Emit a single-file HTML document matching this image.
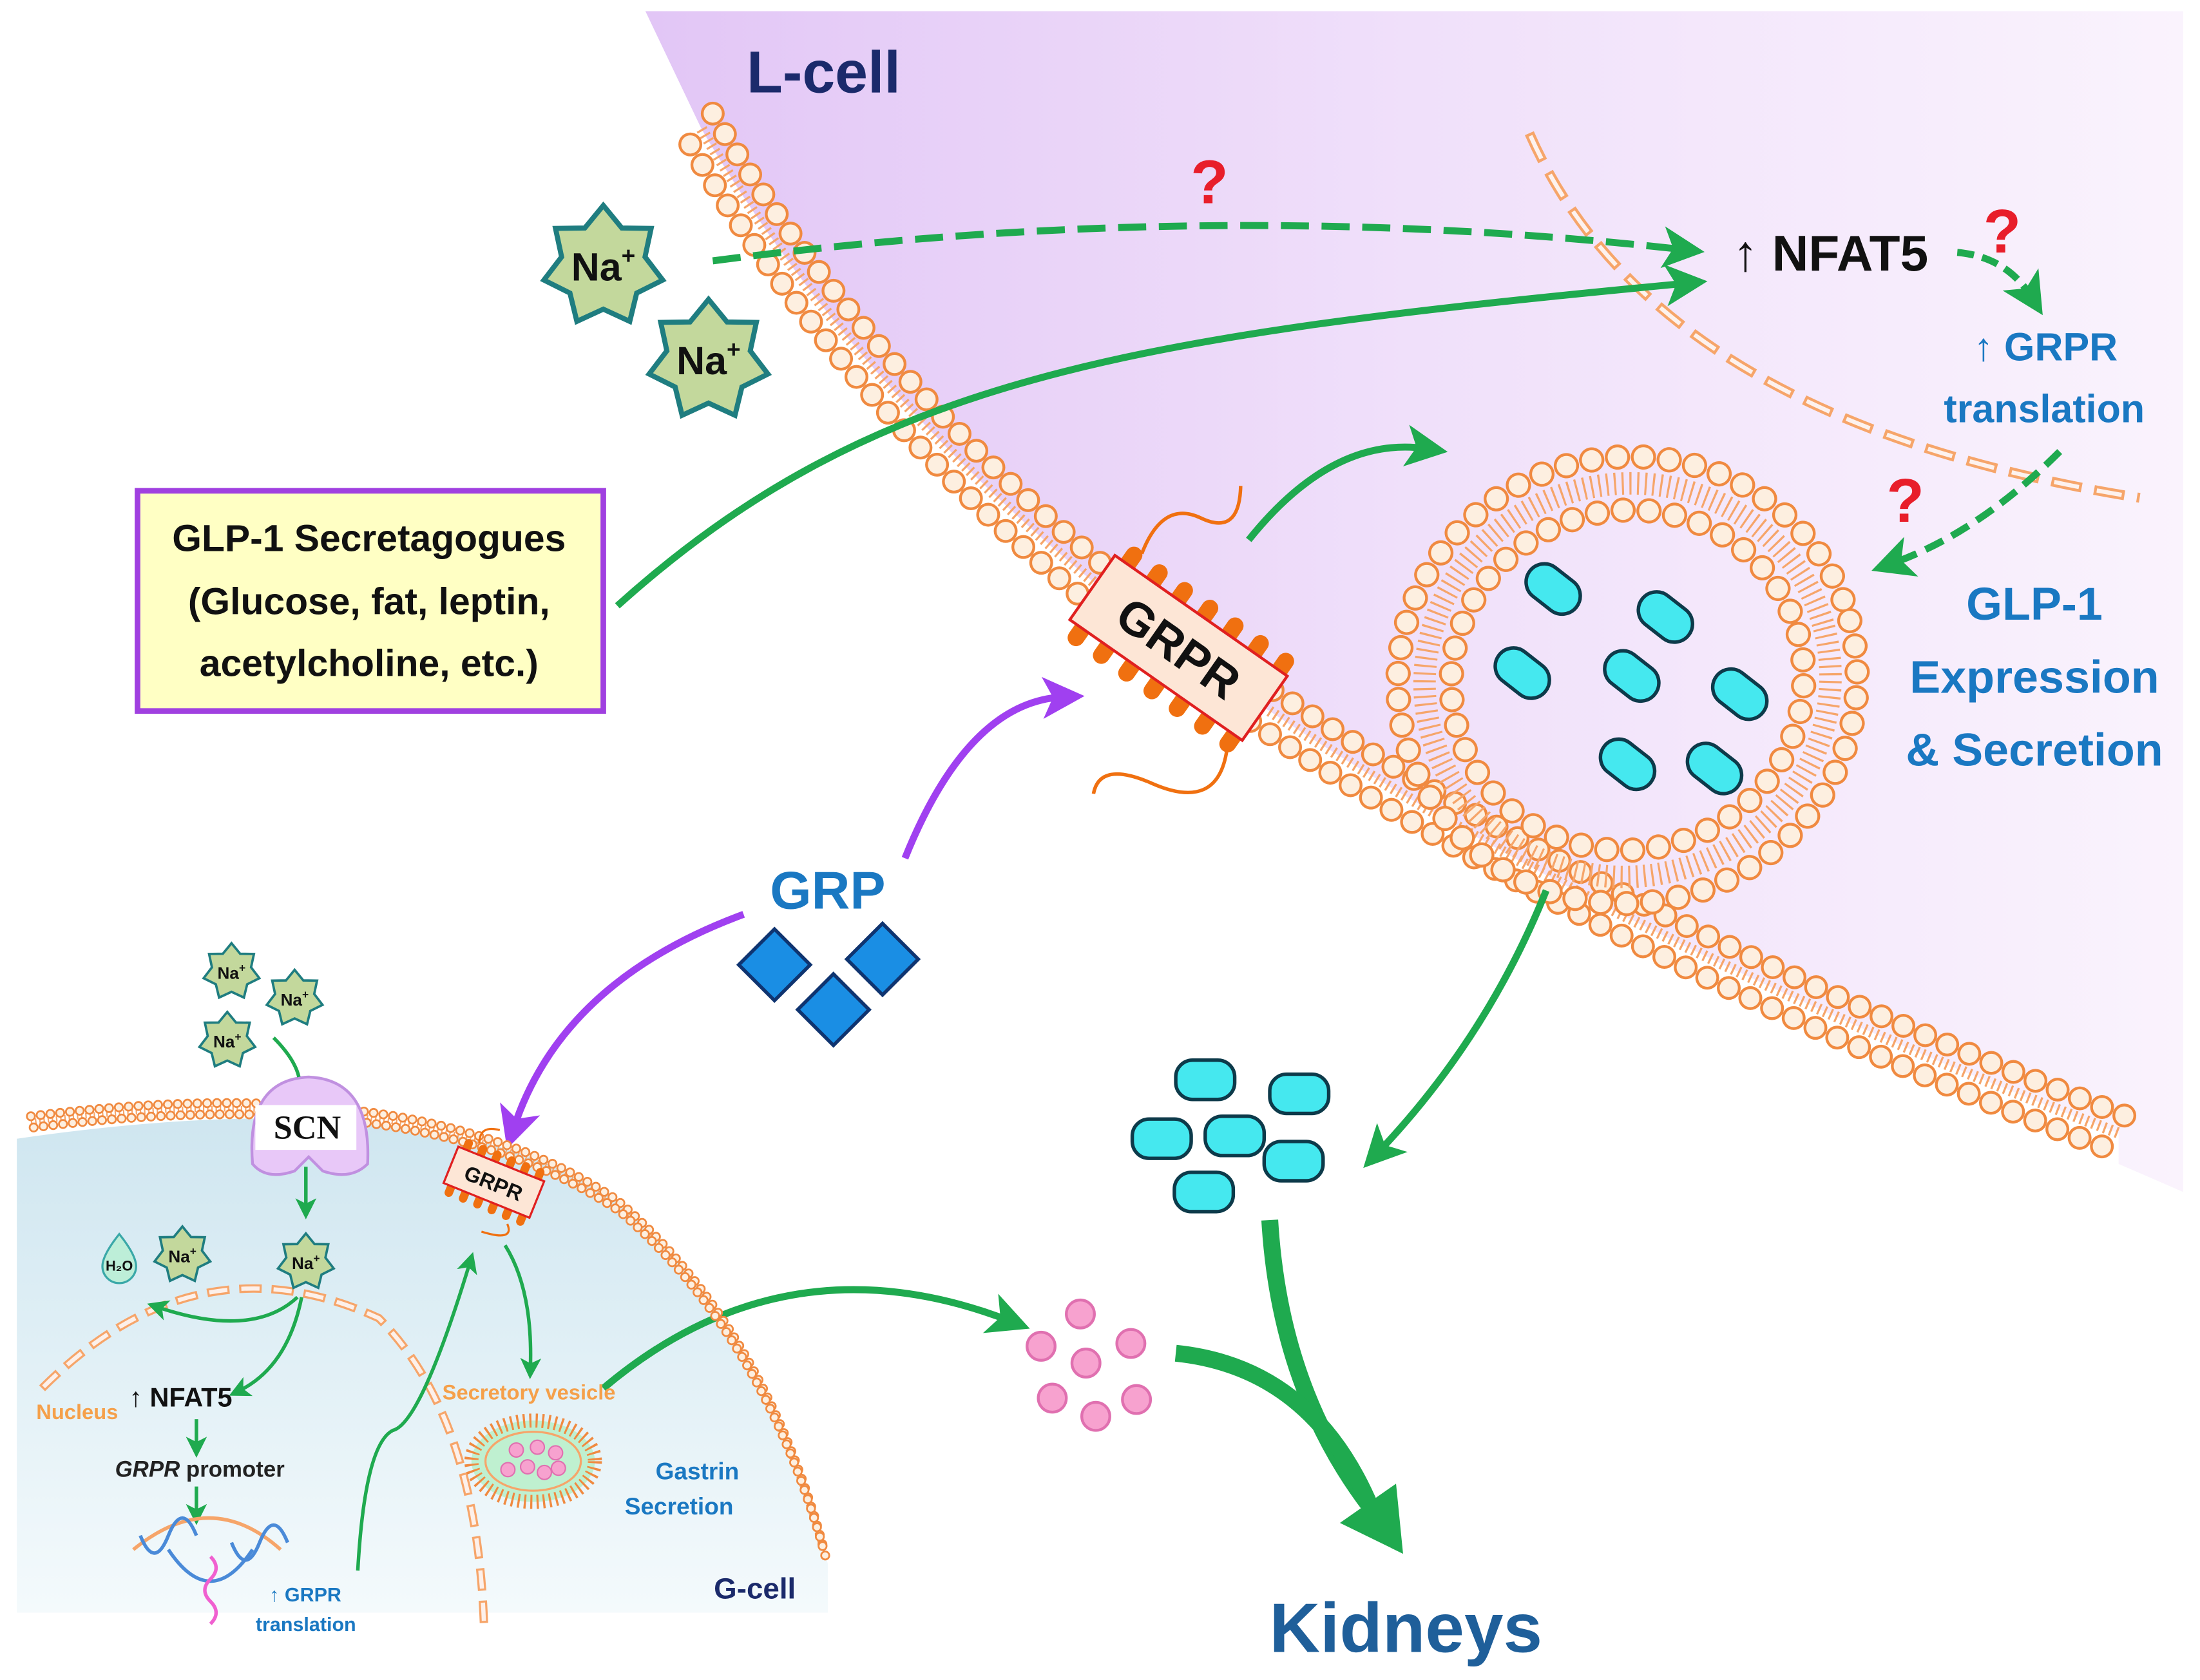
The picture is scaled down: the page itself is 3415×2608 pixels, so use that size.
<!DOCTYPE html>
<html><head><meta charset="utf-8"><style>html,body{margin:0;padding:0;background:#fff}svg{display:block}text{font-family:"Liberation Sans",sans-serif;font-weight:bold}</style></head>
<body>
<svg width="3415" height="2608" viewBox="0 0 1568 1198" preserveAspectRatio="none" xmlns="http://www.w3.org/2000/svg">
<defs>
<linearGradient id="lc" x1="0" y1="0" x2="1" y2="0"><stop offset="0" stop-color="#e2c6f6"/><stop offset="0.5" stop-color="#f0e0fa"/><stop offset="1" stop-color="#faf3fd"/></linearGradient>
<linearGradient id="gc" x1="0" y1="0" x2="0" y2="1"><stop offset="0" stop-color="#cfe6f0"/><stop offset="1" stop-color="#f4fafc"/></linearGradient>
<polygon id="star" points="0,-30 9.1,-18.9 23.5,-18.7 20.5,-4.7 29.2,6.7 16.4,13.1 13,27 0,21 -13,27 -16.4,13.1 -29.2,6.7 -20.5,-4.7 -23.5,-18.7 -9.1,-18.9" fill="#c3d89c" stroke="#1f7d80" stroke-width="2.5"/>
<path id="mem" d="M500,92 C580,230 700,360 840,462 S1200,690 1510,808"/>
<path id="gm" d="M22,800 Q300,765 440,860 Q545,950 588,1112"/>
<marker id="ag" markerWidth="6" markerHeight="6" refX="3" refY="3" orient="auto" markerUnits="strokeWidth"><path d="M0,0 L6,3 L0,6 L1.5,3z" fill="#1faa4f"/></marker>
<marker id="ap" markerWidth="6" markerHeight="6" refX="3" refY="3" orient="auto" markerUnits="strokeWidth"><path d="M0,0 L6,3 L0,6 L1.5,3z" fill="#a040f0"/></marker>
</defs>

<!-- L-cell region -->
<path d="M460,8 L1556,8 L1556,850 L1510,830 L1510,808 C1200,690 980,564 840,462 C700,360 580,230 500,92 Z" fill="url(#lc)"/>
<!-- G-cell region -->
<path d="M12,812 Q300,770 430,850 Q540,930 590,1115 L590,1150 L12,1150 Z" fill="url(#gc)"/>

<!-- L-cell membrane -->
<g fill="none">
<use href="#mem" stroke="#f6a56a" stroke-width="8" stroke-dasharray="1.5 3"/>
<g transform="translate(-8,11)"><use href="#mem" stroke="#f08a40" stroke-width="17" stroke-dasharray="0 17" stroke-linecap="round"/><use href="#mem" stroke="#fdefe0" stroke-width="13" stroke-dasharray="0 17" stroke-linecap="round"/></g>
<g transform="translate(8,-11)"><use href="#mem" stroke="#f08a40" stroke-width="17" stroke-dasharray="0 17" stroke-linecap="round"/><use href="#mem" stroke="#fdefe0" stroke-width="13" stroke-dasharray="0 17" stroke-linecap="round"/></g>
</g>

<!-- L-cell nucleus dashed -->
<path d="M1090,95 Q1180,300 1525,355" fill="none" stroke="#f6a56a" stroke-width="7" stroke-dasharray="22 9"/>
<path d="M1090,95 Q1180,300 1525,355" fill="none" stroke="#fdf2ee" stroke-width="3" stroke-dasharray="18 13" stroke-dashoffset="-2"/>

<!-- Vesicle -->
<g transform="rotate(-15 1160 485)" fill="none">
<ellipse cx="1160" cy="485" rx="145" ry="140" stroke="#f6a56a" stroke-width="16" stroke-dasharray="1.5 4"/>
<ellipse cx="1160" cy="485" rx="164" ry="159" stroke="#f08a40" stroke-width="18" stroke-dasharray="0 18.5" stroke-linecap="round"/>
<ellipse cx="1160" cy="485" rx="164" ry="159" stroke="#fdefe0" stroke-width="14" stroke-dasharray="0 18.5" stroke-linecap="round"/>
<ellipse cx="1160" cy="485" rx="126" ry="121" stroke="#f08a40" stroke-width="18" stroke-dasharray="0 18.5" stroke-linecap="round"/>
<ellipse cx="1160" cy="485" rx="126" ry="121" stroke="#fdefe0" stroke-width="14" stroke-dasharray="0 18.5" stroke-linecap="round"/>
</g>
<g fill="#45e8ef" stroke="#0d3a4a" stroke-width="2.5">
<rect x="-21" y="-13" width="42" height="26" rx="13" transform="translate(1107,420) rotate(38)"/>
<rect x="-21" y="-13" width="42" height="26" rx="13" transform="translate(1187,440) rotate(38)"/>
<rect x="-21" y="-13" width="42" height="26" rx="13" transform="translate(1085,480) rotate(38)"/>
<rect x="-21" y="-13" width="42" height="26" rx="13" transform="translate(1163,482) rotate(38)"/>
<rect x="-21" y="-13" width="42" height="26" rx="13" transform="translate(1240,495) rotate(38)"/>
<rect x="-21" y="-13" width="42" height="26" rx="13" transform="translate(1160,545) rotate(38)"/>
<rect x="-21" y="-13" width="42" height="26" rx="13" transform="translate(1222,548) rotate(38)"/>
</g>

<!-- GRPR L-cell -->
<g transform="translate(840,462) rotate(35)">
<g fill="none" stroke="#f07010" stroke-width="2.5">
<path d="M-60,-40 q-10,-40 20,-45 q30,-5 10,-35 M70,40 q20,40 -30,50 q-40,8 -30,30"/>
</g>
<g fill="#f07010">
<rect x="-70" y="-42" width="12" height="84" rx="6"/><rect x="-48" y="-42" width="12" height="84" rx="6"/><rect x="-26" y="-42" width="12" height="84" rx="6"/><rect x="-4" y="-42" width="12" height="84" rx="6"/><rect x="18" y="-42" width="12" height="84" rx="6"/><rect x="40" y="-42" width="12" height="84" rx="6"/><rect x="62" y="-42" width="12" height="84" rx="6"/>
</g>
<rect x="-75" y="-28" width="150" height="56" fill="#fde6d6" stroke="#e02020" stroke-width="2"/>
<text x="0" y="12" text-anchor="middle" font-size="34" fill="#111">GRPR</text>
</g>

<!-- Na stars -->
<g transform="translate(430,190) scale(1.45)"><use href="#star"/></g>
<text x="430" y="200" text-anchor="middle" font-size="28" fill="#111" font-weight="normal">Na<tspan dy="-12" font-size="17">+</tspan></text>
<g transform="translate(505,257) scale(1.45)"><use href="#star"/></g>
<text x="505" y="267" text-anchor="middle" font-size="28" fill="#111" font-weight="normal">Na<tspan dy="-12" font-size="17">+</tspan></text>

<!-- arrows L-cell -->
<g fill="none" stroke="#1faa4f" stroke-width="5">
<path d="M508,186 Q860,140 1200,178" stroke-dasharray="20 9" marker-end="url(#ag)"/>
<path d="M440,432 C620,270 800,240 1202,202" marker-end="url(#ag)"/>
<path d="M1395,180 Q1430,183 1448,212" stroke-dasharray="12 6" marker-end="url(#ag)"/>
<path d="M1468,322 Q1410,380 1348,402" stroke-dasharray="14 7" marker-end="url(#ag)"/>
<path d="M890,385 Q950,310 1017,320" marker-end="url(#ag)"/>
<path d="M1102,635 Q1060,740 982,822" marker-end="url(#ag)"/>
<path d="M430,990 Q560,880 720,942" marker-end="url(#ag)"/>
</g>
<path d="M905,870 Q912,990 977,1075" fill="none" stroke="#1faa4f" stroke-width="12"/>
<path d="M838,965 Q935,975 977,1075" fill="none" stroke="#1faa4f" stroke-width="12"/>
<polygon points="1000,1108 995,1058 955,1086" fill="#1faa4f"/>

<g fill="#e81e2a" font-size="44"><text x="862" y="145" text-anchor="middle">?</text><text x="1427" y="180" text-anchor="middle">?</text><text x="1358" y="372" text-anchor="middle">?</text></g>

<text x="587" y="66" text-anchor="middle" font-size="42" fill="#1b2a6b">L-cell</text>
<text x="1235" y="193" font-size="36" fill="#111">↑ NFAT5</text>
<text x="1458" y="257" text-anchor="middle" font-size="28" fill="#1a78c2">↑ GRPR</text>
<text x="1457" y="301" text-anchor="middle" font-size="28" fill="#1a78c2">translation</text>
<text x="1450" y="442" text-anchor="middle" font-size="33" fill="#1a78c2">GLP-1</text>
<text x="1450" y="494" text-anchor="middle" font-size="33" fill="#1a78c2">Expression</text>
<text x="1450" y="546" text-anchor="middle" font-size="33" fill="#1a78c2">&amp; Secretion</text>

<!-- box -->
<rect x="98" y="350" width="332" height="157" fill="#ffffc4" stroke="#a040e0" stroke-width="4"/>
<g font-size="27" fill="#111" text-anchor="middle"><text x="263" y="393">GLP-1 Secretagogues</text><text x="263" y="438">(Glucose, fat, leptin,</text><text x="263" y="482">acetylcholine, etc.)</text></g>

<!-- GRP -->
<text x="590" y="648" text-anchor="middle" font-size="38" fill="#1a78c2">GRP</text>
<g fill="#1a8ee4" stroke="#0f3470" stroke-width="2.5">
<rect x="-18" y="-18" width="36" height="36" transform="translate(552,688) rotate(45)"/>
<rect x="-18" y="-18" width="36" height="36" transform="translate(629,684) rotate(45)"/>
<rect x="-18" y="-18" width="36" height="36" transform="translate(594,720) rotate(45)"/>
</g>
<g fill="none" stroke="#a040f0" stroke-width="5">
<path d="M645,612 Q690,500 758,497" marker-end="url(#ap)"/>
<path d="M530,652 Q400,700 366,805" marker-end="url(#ap)"/>
</g>

<!-- GLP-1 outside -->
<g fill="#45e8ef" stroke="#0d3a4a" stroke-width="2.5">
<rect x="838" y="756" width="42" height="28" rx="12"/><rect x="905" y="766" width="42" height="28" rx="12"/>
<rect x="859" y="796" width="42" height="28" rx="12"/><rect x="807" y="798" width="42" height="28" rx="12"/>
<rect x="901" y="814" width="42" height="28" rx="12"/><rect x="837" y="836" width="42" height="28" rx="12"/>
</g>
<g fill="#f7a2cf" stroke="#e070b0" stroke-width="2">
<circle cx="770" cy="937" r="10"/><circle cx="742" cy="960" r="10"/><circle cx="806" cy="958" r="10"/><circle cx="774" cy="972" r="10"/><circle cx="750" cy="997" r="10"/><circle cx="810" cy="998" r="10"/><circle cx="781" cy="1010" r="10"/>
</g>
<text x="1002" y="1178" text-anchor="middle" font-size="50" fill="#1f5f9a">Kidneys</text>

<!-- G-cell membrane -->
<g fill="none">
<use href="#gm" stroke="#f6a56a" stroke-width="4" stroke-dasharray="1 2"/>
<g transform="translate(0,-4)"><use href="#gm" stroke="#f08a40" stroke-width="7" stroke-dasharray="0 7" stroke-linecap="round"/><use href="#gm" stroke="#fdefe0" stroke-width="4.5" stroke-dasharray="0 7" stroke-linecap="round"/></g>
<g transform="translate(2,4)"><use href="#gm" stroke="#f08a40" stroke-width="7" stroke-dasharray="0 7" stroke-linecap="round"/><use href="#gm" stroke="#fdefe0" stroke-width="4.5" stroke-dasharray="0 7" stroke-linecap="round"/></g>
</g>
<!-- G nucleus -->
<path d="M30,990 Q140,880 270,940 Q340,1010 345,1160" fill="none" stroke="#f6a56a" stroke-width="6" stroke-dasharray="16 7"/>
<path d="M30,990 Q140,880 270,940 Q340,1010 345,1160" fill="none" stroke="#fdf0ea" stroke-width="3" stroke-dasharray="13 10" stroke-dashoffset="-1.5"/>

<!-- SCN -->
<path d="M180,830 Q175,770 220,768 Q265,770 262,830 Q250,842 230,835 L220,825 L210,835 Q190,842 180,830Z" fill="#e8c8f8" stroke="#c090e0" stroke-width="2"/>
<rect x="182" y="788" width="72" height="32" fill="#fff"/>
<text x="219" y="812" text-anchor="middle" font-size="24" style="font-family:'Liberation Serif',serif" fill="#111">SCN</text>

<g transform="translate(165,693) scale(0.68)"><use href="#star"/></g>
<g transform="translate(210,712) scale(0.68)"><use href="#star"/></g>
<g transform="translate(162,742) scale(0.68)"><use href="#star"/></g>
<g transform="translate(130,895) scale(0.68)"><use href="#star"/></g>
<g transform="translate(218,900) scale(0.68)"><use href="#star"/></g>
<g font-size="12" fill="#111" font-weight="normal" text-anchor="middle"><text x="165" y="698">Na<tspan dy="-5" font-size="8">+</tspan></text><text x="210" y="717">Na<tspan dy="-5" font-size="8">+</tspan></text><text x="162" y="747">Na<tspan dy="-5" font-size="8">+</tspan></text><text x="130" y="900">Na<tspan dy="-5" font-size="8">+</tspan></text><text x="218" y="905">Na<tspan dy="-5" font-size="8">+</tspan></text></g>
<path d="M85,880 Q97,895 97,903 A12,12 0 1 1 73,903 Q73,895 85,880Z" fill="#bdeed8" stroke="#3aa8a8" stroke-width="1.5"/>
<text x="85" y="906" text-anchor="middle" font-size="10" fill="#111">H₂O</text>

<!-- G-cell GRPR -->
<g transform="translate(352,843) rotate(22)">
<g fill="#f07010"><rect x="-30" y="-22" width="6" height="44" rx="3"/><rect x="-19" y="-22" width="6" height="44" rx="3"/><rect x="-8" y="-22" width="6" height="44" rx="3"/><rect x="3" y="-22" width="6" height="44" rx="3"/><rect x="14" y="-22" width="6" height="44" rx="3"/><rect x="25" y="-22" width="6" height="44" rx="3"/></g>
<rect x="-33" y="-14" width="66" height="28" fill="#fde6d6" stroke="#e02020" stroke-width="1.5"/>
<text x="0" y="6" text-anchor="middle" font-size="15" fill="#111">GRPR</text>
<path d="M-20,-22 q-5,-12 10,-14 M20,24 q10,10 -15,12" fill="none" stroke="#f07010" stroke-width="1.5"/>
</g>

<!-- G-cell arrows -->
<g fill="none" stroke="#1faa4f" stroke-width="2.5">
<path d="M195,740 Q210,755 213,768"/>
<path d="M218,832 L218,862" marker-end="url(#ag)"/>
<path d="M212,925 Q180,955 112,932" marker-end="url(#ag)"/>
<path d="M215,925 Q205,975 170,992" marker-end="url(#ag)"/>
<path d="M140,1012 L140,1032" marker-end="url(#ag)"/>
<path d="M140,1060 L140,1080" marker-end="url(#ag)"/>
<path d="M255,1120 Q260,1030 280,1020 Q300,1015 335,900" marker-end="url(#ag)"/>
<path d="M360,888 Q380,920 378,976" marker-end="url(#ag)"/>
</g>
<!-- DNA -->
<g fill="none" stroke-width="2.5">
<path d="M95,1105 Q150,1060 200,1105" stroke="#f6a56a"/>
<path d="M100,1095 q10,25 20,0 q10,-25 20,0 M165,1100 q10,25 20,0 q10,-25 20,0" stroke="#4a8ad8"/>
<path d="M120,1105 Q150,1150 180,1105" stroke="#4a8ad8"/>
<path d="M150,1110 q8,8 0,16 q-8,8 0,16 q8,8 0,16" stroke="#f060d0"/>
</g>
<!-- Secretory vesicle -->
<ellipse cx="380" cy="1042" rx="44" ry="29" fill="#bff0d0" stroke="#f08a40" stroke-width="10" stroke-dasharray="1.5 3"/>
<ellipse cx="380" cy="1042" rx="34" ry="21" fill="#bff0d0" stroke="#f6a56a" stroke-width="1.5"/>
<g fill="#f7a2cf" stroke="#e070b0"><circle cx="368" cy="1034" r="5"/><circle cx="383" cy="1032" r="5"/><circle cx="396" cy="1036" r="5"/><circle cx="362" cy="1048" r="5"/><circle cx="376" cy="1046" r="5"/><circle cx="388" cy="1050" r="5"/><circle cx="398" cy="1047" r="5"/></g>

<text x="55" y="1012" text-anchor="middle" font-size="15" fill="#f5a04a">Nucleus</text>
<text x="92" y="1003" font-size="19" fill="#111">↑ NFAT5</text>
<text x="82" y="1053" font-size="16" fill="#222" font-weight="normal"><tspan font-style="italic" font-weight="bold">GRPR</tspan> promoter</text>
<text x="192" y="1142" font-size="14" fill="#1a78c2">↑ GRPR</text>
<text x="218" y="1163" text-anchor="middle" font-size="14" fill="#1a78c2">translation</text>
<text x="377" y="998" text-anchor="middle" font-size="15" fill="#f5a04a">Secretory vesicle</text>
<text x="497" y="1055" text-anchor="middle" font-size="17" fill="#1a78c2">Gastrin</text>
<text x="484" y="1080" text-anchor="middle" font-size="17" fill="#1a78c2">Secretion</text>
<text x="538" y="1140" text-anchor="middle" font-size="21" fill="#1b2a6b">G-cell</text>
</svg>
</body></html>
